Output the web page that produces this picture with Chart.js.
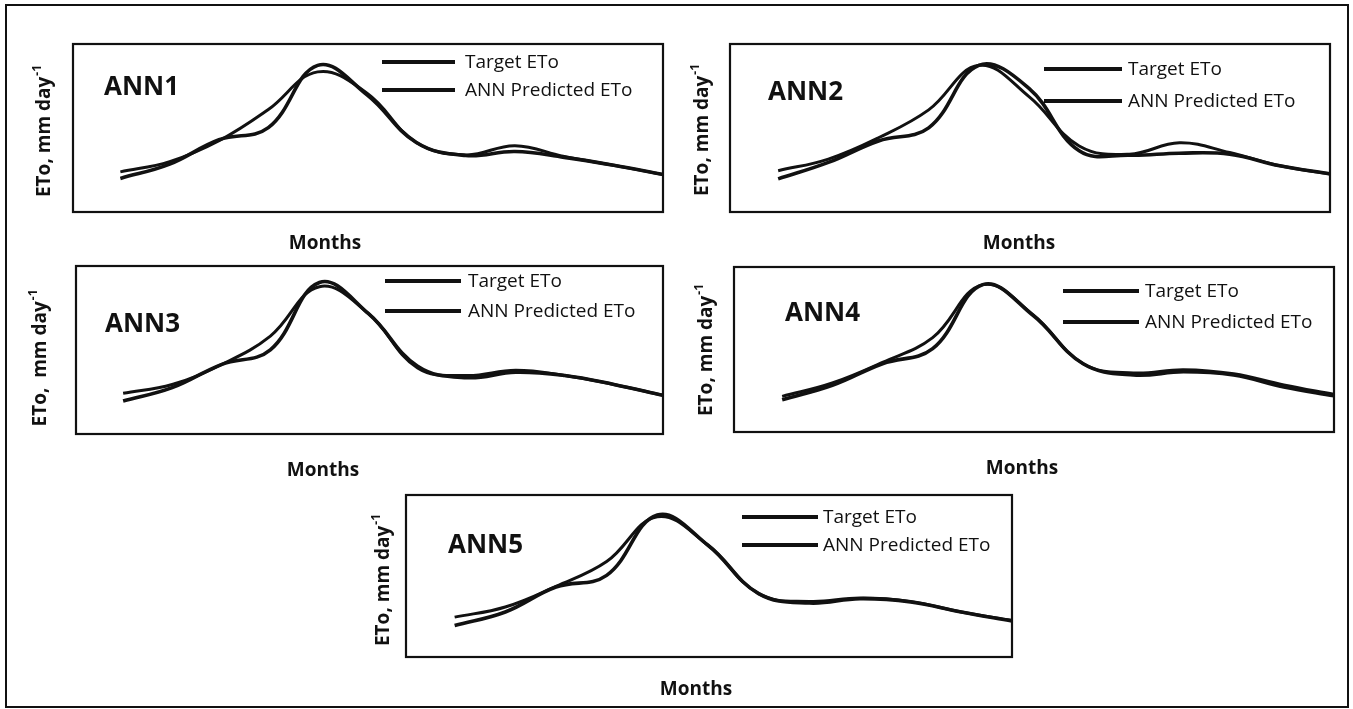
<!DOCTYPE html>
<html>
<head>
<meta charset="utf-8">
<script src="https://cdn.jsdelivr.net/npm/chart.js@4.4.1/dist/chart.umd.min.js"></script>
<style>
  html, body { margin: 0; padding: 0; background: #fff; }
  #wrap { position: relative; width: 1353px; height: 709px; overflow: hidden; }
  #wrap canvas { position: absolute; left: 0; top: 0; }
</style>
</head>
<body>
<div id="wrap">
  <canvas id="c1" width="1353" height="709"></canvas>
  <canvas id="c2" width="1353" height="709"></canvas>
  <canvas id="c3" width="1353" height="709"></canvas>
  <canvas id="c4" width="1353" height="709"></canvas>
  <canvas id="c5" width="1353" height="709"></canvas>
</div>
<script>
// ---- data (ETo, mm/day; months Jan..Dec) ----
const months = ['Jan','Feb','Mar','Apr','May','Jun','Jul','Aug','Sep','Oct','Nov','Dec'];
const seriesNames = ['Target ETo', 'ANN Predicted ETo'];
const modelNames = ['ANN1', 'ANN2', 'ANN3', 'ANN4', 'ANN5'];

const ann1Target    = [2.00, 2.85, 4.30, 5.02, 8.73, 6.98, 4.14, 3.36, 3.60, 3.25, 2.78, 2.23];
const ann1Predicted = [2.39, 3.00, 4.24, 6.10, 8.34, 7.07, 4.14, 3.40, 3.95, 3.30, 2.78, 2.23];

const ann2Target    = [1.97, 2.95, 4.23, 5.01, 8.73, 7.36, 3.64, 3.38, 3.50, 3.44, 2.75, 2.27];
const ann2Predicted = [2.46, 3.15, 4.42, 6.08, 8.73, 6.87, 3.93, 3.44, 4.12, 3.54, 2.75, 2.27];

const ann3Target    = [1.97, 2.76, 4.13, 5.01, 9.02, 7.16, 4.03, 3.35, 3.68, 3.48, 2.95, 2.30];
const ann3Predicted = [2.42, 2.95, 4.13, 5.83, 8.77, 7.16, 3.93, 3.48, 3.79, 3.48, 2.95, 2.30];

const ann4Target    = [1.96, 2.83, 4.14, 5.05, 8.93, 7.07, 4.14, 3.45, 3.65, 3.45, 2.73, 2.20];
const ann4Predicted = [2.16, 2.97, 4.22, 5.72, 8.93, 7.11, 4.14, 3.58, 3.78, 3.53, 2.85, 2.28];

const ann5Target    = [1.95, 2.78, 4.32, 5.04, 8.76, 6.90, 3.91, 3.33, 3.60, 3.40, 2.78, 2.22];
const ann5Predicted = [2.46, 3.09, 4.36, 5.89, 8.66, 6.90, 3.91, 3.43, 3.64, 3.43, 2.78, 2.26];

const yAxisTitle = 'ETo, mm day';
const yAxisTitle3 = 'ETo,  mm day';
const yAxisSup = '-1';
const xAxisTitle = 'Months';

// ---- layout (page pixels) ----
const W = 1353, H = 709;
const FONT = '"Open Sans", "DejaVu Sans", sans-serif';
const panels = [
  { id: 'c1', target: ann1Target, pred: ann1Predicted, name: modelNames[0], ytxt: yAxisTitle,
    box: [73, 44, 663, 212], title: [104, 88], leg: [382, 455, 465, 62, 90], ylab: [50, 131], xlab: [325, 244] },
  { id: 'c2', target: ann2Target, pred: ann2Predicted, name: modelNames[1], ytxt: yAxisTitle,
    box: [730, 44, 1330, 212], title: [768, 93], leg: [1044, 1122, 1128, 69, 101], ylab: [708, 130], xlab: [1019, 244] },
  { id: 'c3', target: ann3Target, pred: ann3Predicted, name: modelNames[2], ytxt: yAxisTitle3,
    box: [76, 266, 663, 434], title: [105, 325], leg: [385, 461, 468, 281, 311], ylab: [46, 358], xlab: [323, 471] },
  { id: 'c4', target: ann4Target, pred: ann4Predicted, name: modelNames[3], ytxt: yAxisTitle,
    box: [734, 267, 1334, 432], title: [785, 314], leg: [1063, 1139, 1145, 291, 322], ylab: [712, 350], xlab: [1022, 469] },
  { id: 'c5', target: ann5Target, pred: ann5Predicted, name: modelNames[4], ytxt: yAxisTitle,
    box: [406, 495, 1012, 657], title: [448, 546], leg: [742, 818, 823, 517, 545], ylab: [389, 580], xlab: [696, 690] }
];

const decor = {
  id: 'decor',
  afterDraw(chart, args, opts) {
    const p = opts.panel;
    const ctx = chart.ctx;
    const a = chart.chartArea;
    ctx.save();
    if (opts.outer) {
      ctx.strokeStyle = '#111';
      ctx.lineWidth = 2;
      ctx.strokeRect(6, 5, 1342, 702);
    }
    // plot box
    ctx.strokeStyle = '#111';
    ctx.lineWidth = 2.2;
    ctx.strokeRect(a.left, a.top, a.right - a.left, a.bottom - a.top);
    // panel title
    ctx.fillStyle = '#111';
    ctx.font = 'bold 26px ' + FONT;
    ctx.textBaseline = 'middle';
    ctx.textAlign = 'left';
    ctx.fillText(p.name, p.title[0], p.title[1]);
    // legend
    ctx.font = '19px ' + FONT;
    chart.data.datasets.forEach((ds, i) => {
      const y = i === 0 ? p.leg[3] : p.leg[4];
      ctx.strokeStyle = ds.borderColor;
      ctx.lineWidth = 4;
      ctx.beginPath();
      ctx.moveTo(p.leg[0], y);
      ctx.lineTo(p.leg[1], y);
      ctx.stroke();
      ctx.fillText(ds.label, p.leg[2], y + 1);
    });
    // x axis title
    ctx.font = 'bold 19px ' + FONT;
    ctx.textAlign = 'center';
    ctx.fillText(xAxisTitle, p.xlab[0], p.xlab[1]);
    // y axis title (rotated, with superscript)
    ctx.translate(p.ylab[0], p.ylab[1]);
    ctx.rotate(-Math.PI / 2);
    ctx.textAlign = 'left';
    ctx.textBaseline = 'alphabetic';
    ctx.font = 'bold 19px ' + FONT;
    const wMain = ctx.measureText(p.ytxt).width;
    ctx.font = 'bold 12px ' + FONT;
    const wSup = ctx.measureText(yAxisSup).width;
    const x0 = -(wMain + wSup + 1) / 2;
    ctx.font = 'bold 19px ' + FONT;
    ctx.fillText(p.ytxt, x0, 0);
    ctx.font = 'bold 12px ' + FONT;
    ctx.fillText(yAxisSup, x0 + wMain + 1, -9);
    ctx.restore();
  }
};

panels.forEach((p, k) => {
  const toPts = arr => arr.map((v, i) => ({ x: i, y: v }));
  new Chart(document.getElementById(p.id), {
    type: 'line',
    data: {
      labels: months,
      datasets: [
        { label: seriesNames[0], data: toPts(p.target), borderColor: '#111', borderWidth: 3.6,
          pointRadius: 0, tension: 0.4, fill: false },
        { label: seriesNames[1], data: toPts(p.pred), borderColor: '#111', borderWidth: 3.0,
          pointRadius: 0, tension: 0.4, fill: false }
      ]
    },
    options: {
      responsive: false,
      animation: false,
      devicePixelRatio: 1,
      layout: { padding: { left: p.box[0], top: p.box[1], right: W - p.box[2], bottom: H - p.box[3] } },
      scales: {
        x: { type: 'linear', min: -0.96, max: 11, display: false },
        y: { min: 0, max: 10, display: false }
      },
      plugins: {
        legend: { display: false },
        tooltip: { enabled: false },
        decor: { panel: p, outer: k === 0 }
      }
    },
    plugins: [decor]
  });
});
</script>
</body>
</html>
